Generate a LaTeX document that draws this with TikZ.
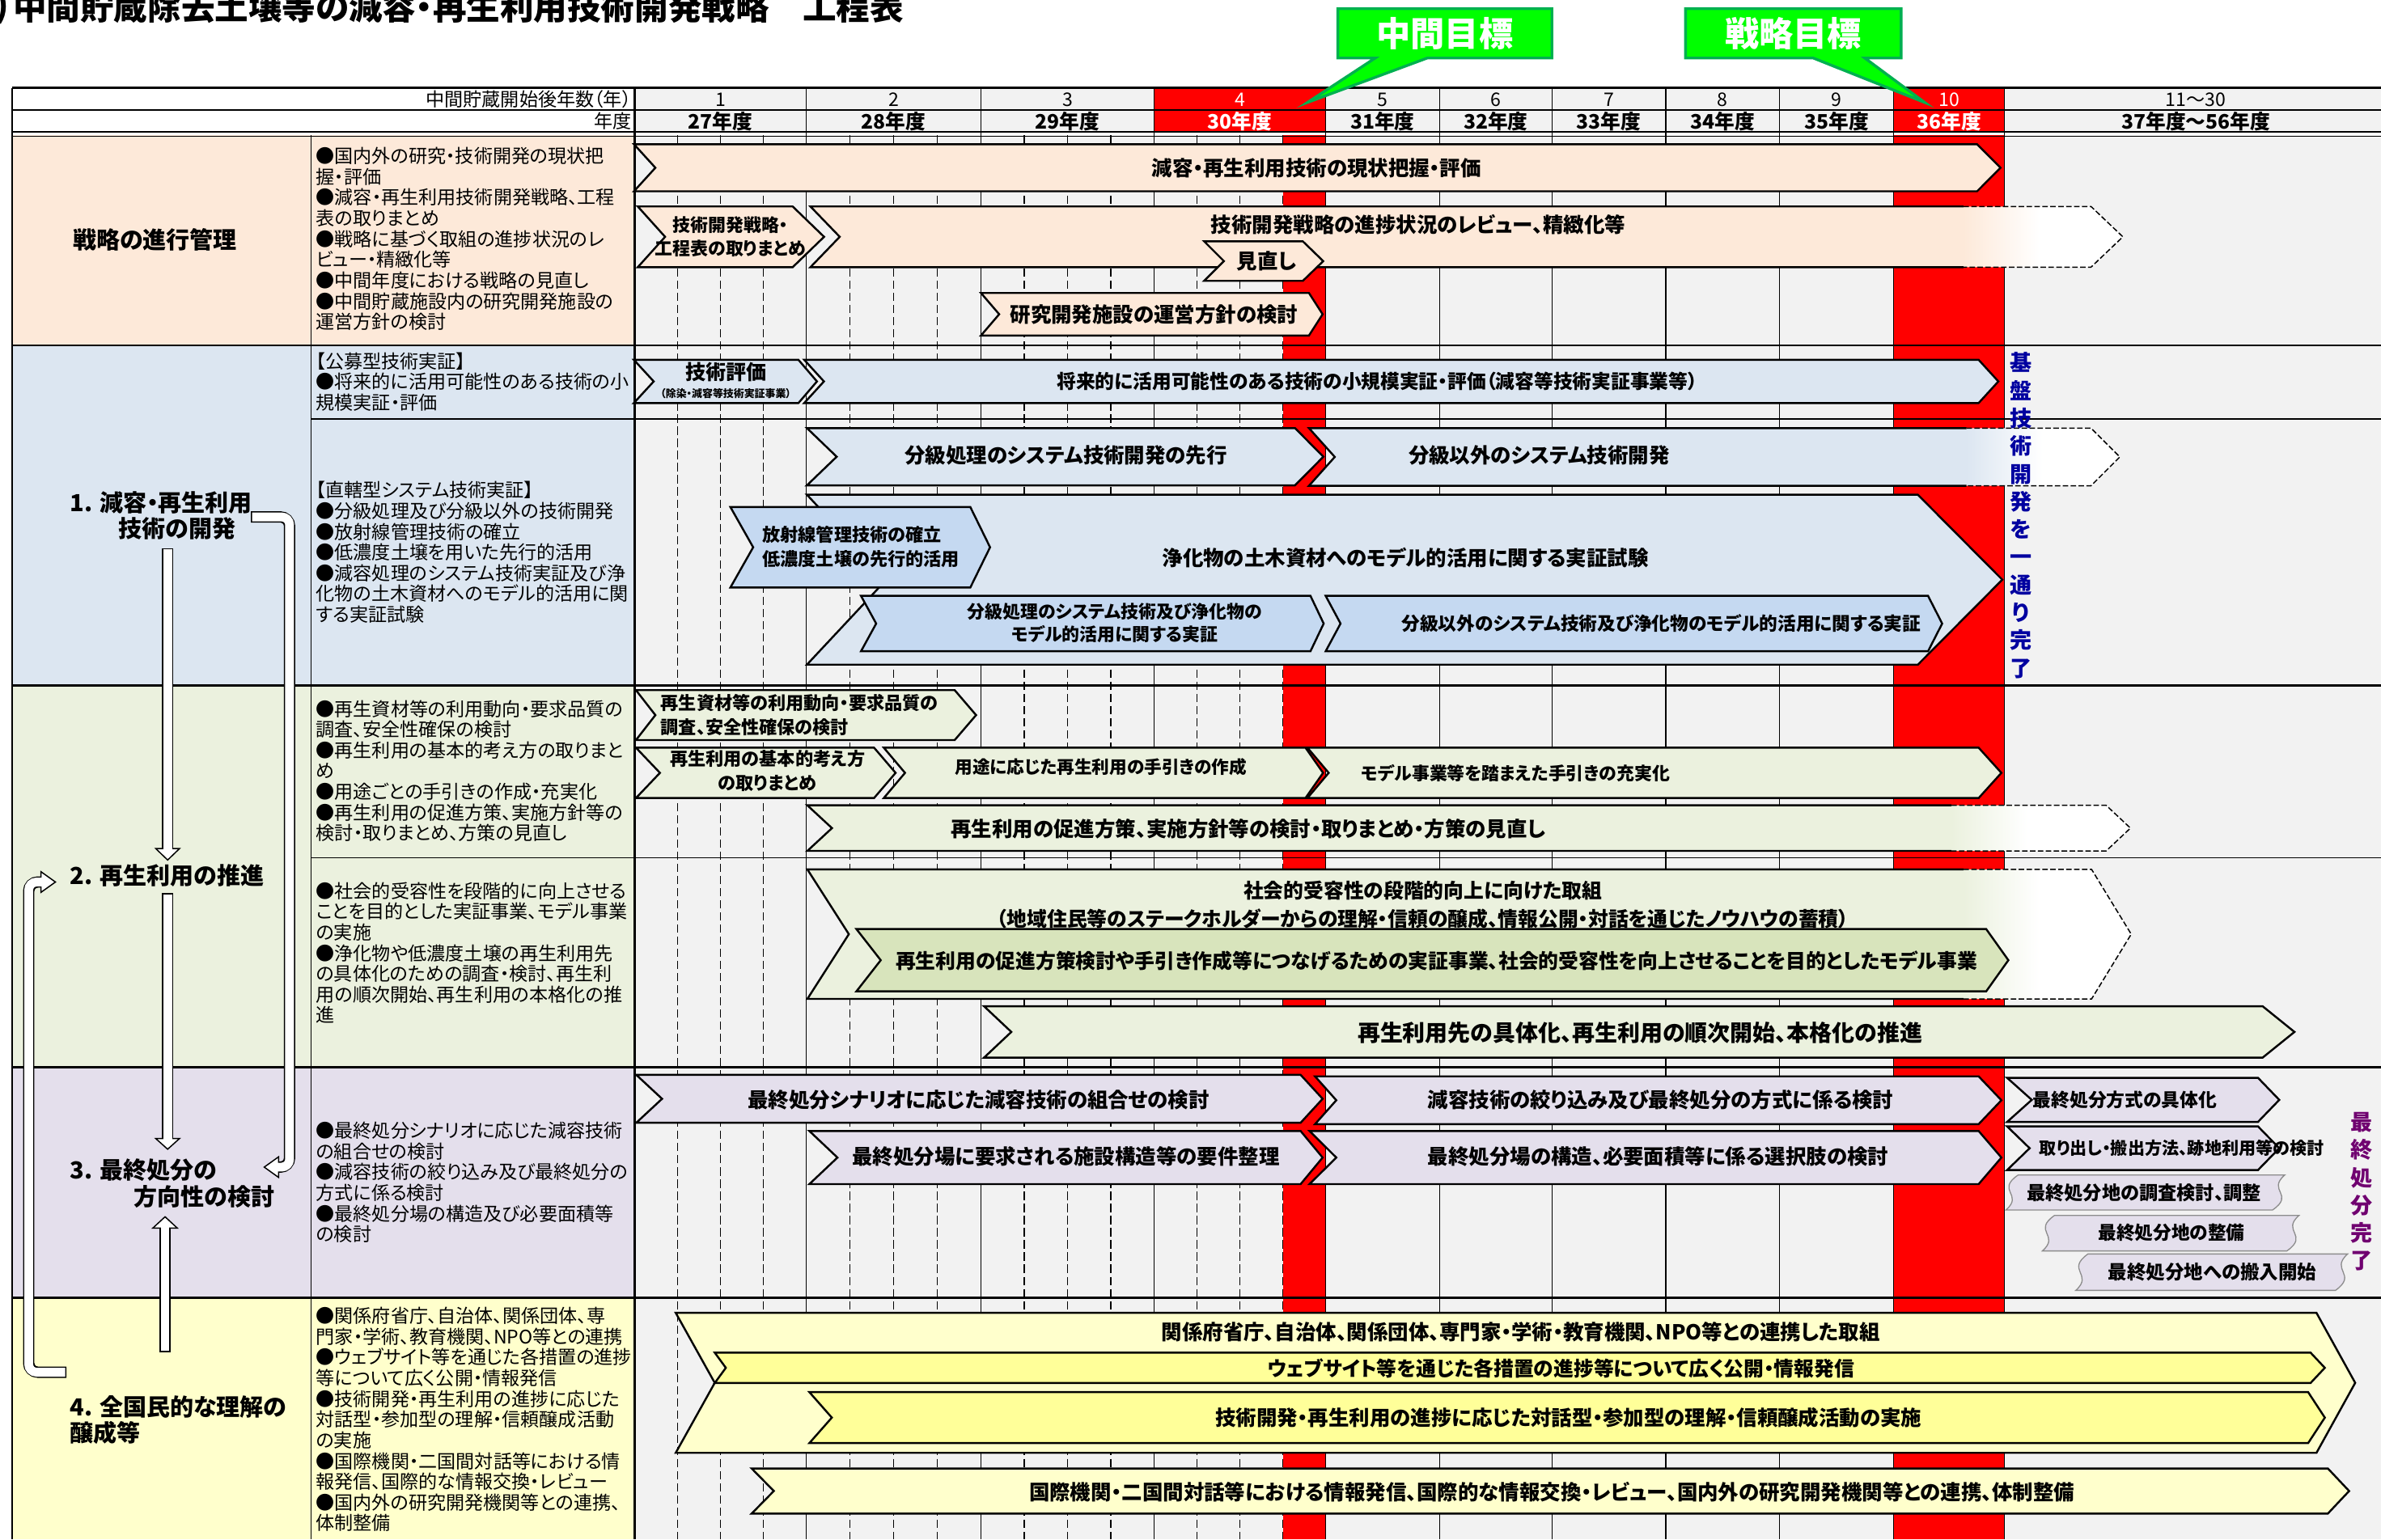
\documentclass[tikz,border=0pt]{standalone}
\usepackage{fontspec}
\setmainfont{Noto Sans CJK JP}[RawFeature=+palt]
\definecolor{peach}{RGB}{253,233,217}
\definecolor{lblue}{RGB}{220,230,241}
\definecolor{mblue}{RGB}{197,217,241}
\definecolor{lgreen}{RGB}{235,241,222}
\definecolor{mgreen}{RGB}{216,228,188}
\definecolor{lav}{RGB}{228,223,236}
\definecolor{lyel}{RGB}{255,255,204}
\definecolor{myel}{RGB}{255,255,153}
\definecolor{bgray}{RGB}{242,242,242}
\definecolor{rred}{RGB}{255,0,0}
\definecolor{gfill}{RGB}{0,255,0}
\definecolor{gline}{RGB}{0,176,80}
\definecolor{vblue}{RGB}{0,0,160}
\definecolor{vpurp}{RGB}{112,0,112}
\tikzset{
 barline/.style={draw=black, line width=0.65mm, line join=miter},
 dashline/.style={draw=black, line width=0.4mm, dash pattern=on 1.8mm off 0.8mm},
 lab/.style={inner sep=0pt, align=center, font=\bfseries\fontsize{19.3}{22}\selectfont},
 labs/.style={inner sep=0pt, align=center, font=\bfseries\fontsize{16.8}{22.5}\selectfont},
 desc/.style={inner sep=0pt, anchor=north west, align=left, font=\fontsize{17.5}{19.42}\selectfont},
 cat/.style={inner sep=0pt, anchor=west, font=\bfseries\fontsize{22}{25}\selectfont},
 hdr/.style={inner sep=0pt, font=\fontsize{17.5}{19}\selectfont},
 hdrb/.style={inner sep=0pt, font=\bfseries\fontsize{18.7}{20}\selectfont},
 vtext/.style={inner sep=0pt, align=center, font=\bfseries\fontsize{20.5}{26}\selectfont},
 qline/.style={draw=black, line width=0.3mm, dash pattern=on 2.7mm off 1.3mm},
 yline/.style={draw=black, line width=0.3mm},
 thickl/.style={draw=black, line width=0.75mm},
 medl/.style={draw=black, line width=0.4mm},
 thinl/.style={draw=black, line width=0.35mm},
 gcall/.style={fill=gfill, draw=gline, line width=0.9mm, line join=miter},
 callt/.style={inner sep=0pt, text=white, font=\bfseries\fontsize{32}{36}\selectfont},
 wavestyle/.style={fill=lav, draw=black!45, line width=0.35mm},
 arrowhd/.style={fill=white, draw=black, line width=0.4mm, line join=miter},
}
% chevron: #1 fill, #2 xl, #3 xnotch, #4 xbase, #5 xtip, #6 ytop, #7 ybottom
\newcommand\chevbar[7]{\draw[barline,fill=#1] (#2,#6) -- (#4,#6) -- (#5,{(#6+#7)/2}) -- (#4,#7) -- (#2,#7) -- (#3,{(#6+#7)/2}) -- cycle;}
% fading chevron: #1 fill #2 xl #3 xn #4 xs #5 xb #6 xt #7 yt #8 yb
\newcommand\fadebar[8]{%
 \begin{scope}
 \clip (#2,#7) -- (#5,#7) -- (#6,{(#7+#8)/2}) -- (#5,#8) -- (#2,#8) -- (#3,{(#7+#8)/2}) -- cycle;
 \fill[#1] ({#2-2},{#7-2}) rectangle (#4,{#8+2});
 \shade[left color=#1,right color=white] (#4,{#7-2}) rectangle ({#4+50},{#8+2});
 \fill[white] ({#4+50},{#7-2}) rectangle ({#6+2},{#8+2});
 \end{scope}
 \draw[barline] (#4,#7) -- (#2,#7) -- (#3,{(#7+#8)/2}) -- (#2,#8) -- (#4,#8);
 \draw[dashline] (#4,#7) -- (#5,#7) -- (#6,{(#7+#8)/2}) -- (#5,#8) -- (#4,#8);
}
% wave box: #1 xl #2 xr #3 yt #4 yb
\newcommand\wavebox[4]{\draw[wavestyle] ({#1+8},#3) -- (#2,#3) .. controls ({#2-12},{#3+0.45*(#4-#3)}) and ({#2+7},{#3+0.55*(#4-#3)}) .. ({#2-8},#4) -- (#1,#4) .. controls ({#1+12},{#4-0.45*(#4-#3)}) and ({#1-7},{#4-0.55*(#4-#3)}) .. ({#1+8},#3) -- cycle;}
\begin{document}
\begin{tikzpicture}[x=0.5mm,y=-0.5mm]
\useasboundingbox (0,0) rectangle (1568,1014);
\fill[white] (0,0) rectangle (1568,1014);
% header and body backgrounds
\fill[bgray] (418,58) rectangle (1568,87);
\fill[rred] (760,58) rectangle (873,87);
\fill[rred] (1247,58) rectangle (1320,87);
\fill[bgray] (418,89) rectangle (1568,1014);
\fill[rred] (845,89) rectangle (873,1014);
\fill[rred] (1247,89) rectangle (1320,1014);
\fill[peach] (8,89) rectangle (418,227.5);
\fill[lblue] (8,227.5) rectangle (418,451.5);
\fill[lgreen] (8,451.5) rectangle (418,703);
\fill[lav] (8,703) rectangle (418,855);
\fill[lyel] (8,855) rectangle (418,1014);
% grid
\foreach \x in {446.25,474.5,502.75,559.75,588.5,617.25,674.5,703,731.5,788.25,816.5,844.75}
  \draw[qline] (\x,89) -- (\x,1014);
\foreach \x in {531,646,760,873,948,1022,1097,1172,1247,1320}
  \draw[yline] (\x,58) -- (\x,1014);
\draw[thickl] (8,58) -- (1568,58);
\draw[medl] (8,72.5) -- (1568,72.5);
\draw[draw=black,line width=0.6mm] (8,87) -- (1568,87);
\draw[medl] (8,89.8) -- (1568,89.8);
\foreach \y in {227.5,451.5,703,855} \draw[thickl] (8,\y) -- (1568,\y);
\draw[thinl] (205,276) -- (1568,276);
\draw[thinl] (205,565) -- (1568,565);
\draw[thickl] (8,58) -- (8,1014);
\draw[thinl] (205,89) -- (205,1014);
\draw[thickl] (418,58) -- (418,1014);
% header texts
\node[hdr,anchor=east] (hA) at (416,65.5) {中間貯蔵開始後年数（年）};
\node[hdr,anchor=east] (hB) at (416,80) {年度};
\foreach \cx/\n/\fy/\col [count=\i] in {474.5/1/27/black,588.5/2/28/black,703/3/29/black,816.5/4/30/white,910.5/5/31/black,985/6/32/black,1059.5/7/33/black,1134.5/8/34/black,1209.5/9/35/black}{
  \node[hdr,text=\col] (yn\i) at (\cx,65.5) {\n};
  \node[hdrb,text=\col] (yf\i) at (\cx,80) {\fy 年度};
}
\node[hdr,text=white] (yn10) at (1283.5,65.5) {10};
\node[hdrb,text=white] (yf10) at (1283.5,80) {36年度};
\node[hdr] (yn11) at (1446,65.5) {11～30};
\node[hdrb] (yf11) at (1446,80) {37年度～56年度};
% ---------- section 1 bars
\chevbar{peach}{417.5}{431.6}{1302}{1317.4}{95}{126}
\node[lab] (t1) at (867,110.5) {減容・再生利用技術の現状把握・評価};
\chevbar{peach}{420}{438}{522}{542.7}{136}{176}
\node[labs,font=\bfseries\fontsize{16.6}{21.5}\selectfont] (t2) at (481,156) {技術開発戦略・\\工程表の取りまとめ};
\fadebar{peach}{533.7}{553}{1293}{1377}{1398}{136}{176}
\node[lab] (t3) at (934,148) {技術開発戦略の進捗状況のレビュー、精緻化等};
\chevbar{peach}{793}{806}{858}{871.4}{159}{185}
\node[lab] (t4) at (834,172) {見直し};
\chevbar{peach}{646}{658}{862}{871}{193}{221}
\node[lab] (t5) at (760,207) {研究開発施設の運営方針の検討};
% ---------- section 2 bars
\chevbar{lblue}{417.4}{430.5}{525.8}{538}{237}{265.5}
\node[lab,font=\bfseries\fontsize{19}{22}\selectfont] (t6) at (478,245) {技術評価};
\node[inner sep=0pt,font=\bfseries\fontsize{9.8}{11}\selectfont] (t6b) at (478,259.5) {（除染・減容等技術実証事業）};
\chevbar{lblue}{529.6}{542.6}{1303}{1316}{237}{265.5}
\node[lab,font=\bfseries\fontsize{18}{22}\selectfont] (t7) at (907,251) {将来的に活用可能性のある技術の小規模実証・評価（減容等技術実証事業等）};
\chevbar{lblue}{531.4}{551}{852.8}{871.5}{282}{319.7}
\node[lab] (t8) at (702,300) {分級処理のシステム技術開発の先行};
\fadebar{lblue}{862}{879}{1295}{1377}{1396}{282}{320}
\node[lab] (t9) at (1013.5,300) {分級以外のシステム技術開発};
\chevbar{lblue}{531.4}{583.7}{1263}{1318.6}{325.9}{437.8}
\node[lab] (t10) at (925.5,367.5) {浄化物の土木資材へのモデル的活用に関する実証試験};
\chevbar{mblue}{481}{496}{639}{652}{334}{387}
\node[labs,anchor=west,align=left,font=\bfseries\fontsize{16.8}{22.5}\selectfont] (t11) at (502,360) {放射線管理技術の確立\\低濃度土壌の先行的活用};
\chevbar{mblue}{567}{577}{863}{871.7}{392.5}{429}
\node[labs,font=\bfseries\fontsize{16.6}{21.3}\selectfont] (t12) at (734,410.5) {分級処理のシステム技術及び浄化物の\\モデル的活用に関する実証};
\chevbar{mblue}{873}{882.8}{1269.7}{1279}{392.5}{429}
\node[labs,font=\bfseries\fontsize{17.2}{21}\selectfont] (t13) at (1094,410.5) {分級以外のシステム技術及び浄化物のモデル的活用に関する実証};
\node[vtext,text=vblue] (v1) at (1331,339.5) {基\\盤\\技\\術\\開\\発\\を\\一\\通\\り\\完\\了};
% ---------- section 3 bars
\chevbar{lgreen}{418.8}{431.6}{628.7}{642.8}{454.6}{487.5}
\node[labs,anchor=west,align=left,font=\bfseries\fontsize{16.8}{22.7}\selectfont] (t14) at (435,471) {再生資材等の利用動向・要求品質の\\調査、安全性確保の検討};
\chevbar{lgreen}{418.8}{434.6}{575.6}{589.8}{492.5}{525.7}
\node[labs,font=\bfseries\fontsize{16.8}{22.7}\selectfont] (t15) at (505.5,508) {再生利用の基本的考え方\\の取りまとめ};
\chevbar{lgreen}{582}{596}{859.7}{871.3}{492.5}{525.7}
\node[labs,font=\bfseries\fontsize{16.4}{22}\selectfont] (t16) at (725,505) {用途に応じた再生利用の手引きの作成};
\chevbar{lgreen}{861}{875}{1303}{1318}{492.5}{525.7}
\node[labs,font=\bfseries\fontsize{16.6}{22}\selectfont] (t17) at (998,509.5) {モデル事業等を踏まえた手引きの充実化};
\fadebar{lgreen}{531.7}{547.9}{1285}{1387}{1403}{530.5}{560.5}
\node[lab] (t18) at (822,546) {再生利用の促進方策、実施方針等の検討・取りまとめ・方策の見直し};
\fadebar{lgreen}{531.7}{559}{1293}{1377.4}{1403.5}{572.7}{658}
\node[lab,font=\bfseries\fontsize{18.8}{26}\selectfont] (t19) at (937,596) {社会的受容性の段階的向上に向けた取組\\（地域住民等のステークホルダーからの理解・信頼の醸成、情報公開・対話を通じたノウハウの蓄積）};
\chevbar{mgreen}{564}{580}{1308}{1322.6}{612}{653}
\node[lab,font=\bfseries\fontsize{18.8}{22}\selectfont] (t20) at (946,633) {再生利用の促進方策検討や手引き作成等につなげるための実証事業、社会的受容性を向上させることを目的としたモデル事業};
\chevbar{lgreen}{648}{666}{1490}{1511}{662.8}{696.7}
\node[lab,font=\bfseries\fontsize{21.2}{24}\selectfont] (t21) at (1080,680.5) {再生利用先の具体化、再生利用の順次開始、本格化の推進};
% ---------- section 4 bars
\chevbar{lav}{419}{436}{856.5}{871}{708}{739.6}
\node[lab] (t22) at (644.5,724.5) {最終処分シナリオに応じた減容技術の組合せの検討};
\chevbar{lav}{866}{880}{1303}{1318}{709}{740.5}
\node[lab] (t23) at (1093.5,724.5) {減容技術の絞り込み及び最終処分の方式に係る検討};
\chevbar{lav}{533}{551.5}{856.5}{871}{745}{780}
\node[lab] (t24) at (702,762) {最終処分場に要求される施設構造等の要件整理};
\chevbar{lav}{862.4}{880}{1303}{1318}{745}{780}
\node[lab] (t25) at (1092,762) {最終処分場の構造、必要面積等に係る選択肢の検討};
\chevbar{lav}{1321.8}{1338}{1487}{1501}{710}{739}
\node[labs,anchor=west,font=\bfseries\fontsize{17.3}{20}\selectfont] (t26) at (1338.5,724.5) {最終処分方式の具体化};
\chevbar{lav}{1321.8}{1336.6}{1487}{1501}{742}{770.7}
\node[labs,anchor=west,font=\bfseries\fontsize{16}{18}\selectfont] (t27) at (1343,756.5) {取り出し・搬出方法、跡地利用等の検討};
\wavebox{1321}{1504.6}{774}{797}
\node[labs,font=\bfseries\fontsize{17.6}{20}\selectfont] (t28) at (1412,786) {最終処分地の調査検討、調整};
\wavebox{1345}{1514}{800.6}{824}
\node[labs,font=\bfseries\fontsize{17.2}{20}\selectfont] (t29) at (1430,812) {最終処分地の整備};
\wavebox{1367}{1546}{826}{850}
\node[labs,font=\bfseries\fontsize{17.8}{20}\selectfont] (t30) at (1457,838) {最終処分地への搬入開始};
\node[vtext,text=vpurp] (v2) at (1555,785) {最\\終\\処\\分\\完\\了};
% ---------- section 5 bars
\chevbar{lyel}{445}{470.7}{1525.5}{1551}{864.8}{957}
\node[lab] (t31) at (1001.5,877.3) {関係府省庁、自治体、関係団体、専門家・学術・教育機関、NPO等との連携した取組};
\chevbar{myel}{470.7}{478}{1521.6}{1531}{891}{911}
\node[lab,font=\bfseries\fontsize{18.8}{22}\selectfont] (t32) at (1028,901.5) {ウェブサイト等を通じた各措置の進捗等について広く公開・情報発信};
\chevbar{myel}{533}{547.8}{1520}{1531}{917}{950.6}
\node[lab] (t33) at (1033,934) {技術開発・再生利用の進捗に応じた対話型・参加型の理解・信頼醸成活動の実施};
\chevbar{lyel}{495}{509.6}{1533}{1547}{967.3}{997}
\node[lab] (t34) at (1022,983) {国際機関・二国間対話等における情報発信、国際的な情報交換・レビュー、国内外の研究開発機関等との連携、体制整備};
% ---------- left category texts
\node[cat,anchor=center] (c0) at (102,158) {戦略の進行管理};
\node[cat] (c1a) at (46,331) {1. 減容・再生利用};
\node[cat] (c1b) at (78,348) {技術の開発};
\node[cat] (c2) at (46,577) {2. 再生利用の推進};
\node[cat] (c3a) at (46,771) {3. 最終処分の};
\node[cat] (c3b) at (88,788) {方向性の検討};
\node[cat] (c4a) at (46,927) {4. 全国民的な理解の};
\node[cat] (c4b) at (46,944) {醸成等};
% ---------- descriptions
\node[desc] (d1) at (208,97) {●国内外の研究・技術開発の現状把\\握・評価\\●減容・再生利用技術開発戦略、工程\\表の取りまとめ\\●戦略に基づく取組の進捗状況のレ\\ビュー・精緻化等\\●中間年度における戦略の見直し\\●中間貯蔵施設内の研究開発施設の\\運営方針の検討};
\node[desc] (d2) at (208,232) {【公募型技術実証】\\●将来的に活用可能性のある技術の小\\規模実証・評価};
\node[desc] (d3) at (208,317) {【直轄型システム技術実証】\\●分級処理及び分級以外の技術開発\\●放射線管理技術の確立\\●低濃度土壌を用いた先行的活用\\●減容処理のシステム技術実証及び浄\\化物の土木資材へのモデル的活用に関\\する実証試験};
\node[desc] (d4) at (208,461) {●再生資材等の利用動向・要求品質の\\調査、安全性確保の検討\\●再生利用の基本的考え方の取りまと\\め\\●用途ごとの手引きの作成・充実化\\●再生利用の促進方策、実施方針等の\\検討・取りまとめ、方策の見直し};
\node[desc] (d5) at (208,581) {●社会的受容性を段階的に向上させる\\ことを目的とした実証事業、モデル事業\\の実施\\●浄化物や低濃度土壌の再生利用先\\の具体化のための調査・検討、再生利\\用の順次開始、再生利用の本格化の推\\進};
\node[desc] (d6) at (208,739) {●最終処分シナリオに応じた減容技術\\の組合せの検討\\●減容技術の絞り込み及び最終処分の\\方式に係る検討\\●最終処分場の構造及び必要面積等\\の検討};
\node[desc] (d7) at (208,861) {●関係府省庁、自治体、関係団体、専\\門家・学術、教育機関、NPO等との連携\\●ウェブサイト等を通じた各措置の進捗\\等について広く公開・情報発信\\●技術開発・再生利用の進捗に応じた\\対話型・参加型の理解・信頼醸成活動\\の実施\\●国際機関・二国間対話等における情\\報発信、国際的な情報交換・レビュー\\●国内外の研究開発機関等との連携、\\体制整備};
% ---------- block arrows in category column
% A1: 1 -> 2
\draw[line width=3.7mm] (110.4,361.2) -- (110.4,560);
\draw[arrowhd] (102.6,559) -- (110.4,566.5) -- (118.2,559) -- cycle;
\draw[line width=2.9mm,white] (110.4,362) -- (110.4,559.8);
% A2: 2 -> 3
\draw[line width=3.7mm] (110.4,588.2) -- (110.4,751);
\draw[arrowhd] (102.6,750) -- (110.4,757) -- (118.2,750) -- cycle;
\draw[line width=2.9mm,white] (110.4,589) -- (110.4,750.8);
% A3: 4 -> 3
\draw[line width=3.7mm] (108.7,890.8) -- (108.7,808);
\draw[arrowhd] (100.6,809) -- (108.7,801.5) -- (116.8,809) -- cycle;
\draw[line width=2.9mm,white] (108.7,890) -- (108.7,808.2);
% A4: 1 -> 3 (right side)
\draw[line width=3.7mm,rounded corners=3mm] (165.2,340.5) -- (190.7,340.5) -- (190.7,768.8) -- (182.8,768.8);
\draw[arrowhd] (183.5,762) -- (174,768.8) -- (183.5,775.6) -- cycle;
\draw[line width=2.9mm,white,rounded corners=2.6mm] (166,340.5) -- (190.7,340.5) -- (190.7,768.8) -- (182.7,768.8);
% A5: 4 -> 2 (left side)
\draw[line width=3.7mm,rounded corners=3mm] (43.8,903.9) -- (18.9,903.9) -- (18.9,581) -- (27.8,581);
\draw[arrowhd] (27,574.2) -- (36.5,581) -- (27,587.8) -- cycle;
\draw[line width=2.9mm,white,rounded corners=2.6mm] (43,903.9) -- (18.9,903.9) -- (18.9,581) -- (27.8,581);
% ---------- callouts
\draw[gcall] (881,5.7) -- (1022,5.7) -- (1022,38.2) -- (940,38.2) -- (861,67.5) -- (905.7,38.2) -- (881,38.2) -- cycle;
\node[callt] (g1) at (951.5,22) {中間目標};
\draw[gcall] (1110,5.7) -- (1252,5.7) -- (1252,38.2) -- (1228,38.2) -- (1267.5,67.5) -- (1194,38.2) -- (1110,38.2) -- cycle;
\node[callt] (g2) at (1181,22) {戦略目標};
% ---------- title
\node[inner sep=0pt,anchor=east,font=\bfseries\fontsize{31.5}{34}\selectfont] (ttl0) at (6,4.5) {)};
\node[inner sep=0pt,anchor=west,font=\bfseries\fontsize{31.5}{34}\selectfont] (ttl) at (8.5,4.5) {中間貯蔵除去土壌等の減容・再生利用技術開発戦略　工程表};
\end{tikzpicture}
\end{document}
